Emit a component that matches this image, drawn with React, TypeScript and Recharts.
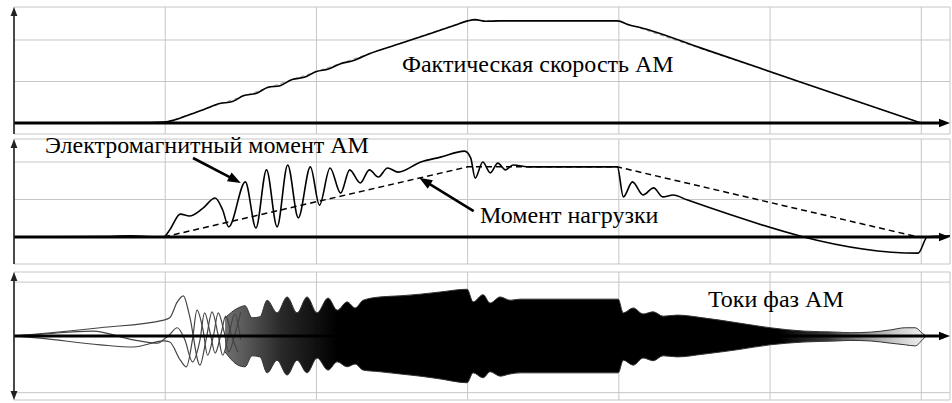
import React from "react";
import {
  ComposedChart,
  Line,
  Area,
  XAxis,
  YAxis,
  CartesianGrid,
  ReferenceLine,
} from "recharts";

// ---------- shared axis values ----------
const X_MAX = 6.19;
const X_TICKS = [1, 2, 3, 4, 5, 6];

// ---------- panel 1: speed ----------
const SPEED_T = [0, 0.9, 0.99, 1.06, 1.16, 1.26, 1.36, 1.44, 1.52, 1.6, 1.68, 1.76, 1.84, 1.92, 2.0, 2.08, 2.16, 2.24, 2.35, 2.55, 2.75, 2.92, 3.0, 3.05, 3.12, 3.21, 3.99, 4.07, 4.14, 4.54, 5.2, 6.0];
const SPEED_V = [0, 0.01, 0.02, 0.07, 0.2, 0.33, 0.47, 0.51, 0.66, 0.71, 0.86, 0.9, 1.05, 1.1, 1.24, 1.3, 1.43, 1.5, 1.67, 1.91, 2.15, 2.36, 2.46, 2.49, 2.45, 2.46, 2.46, 2.36, 2.3, 1.81, 0.99, 0];
const SET_T = [0, 0.99, 3.0, 3.99, 6.0];
const SET_V = [0, 0, 2.47, 2.47, 0];
const P1_DOMAIN = [-0.265, 2.795];
const P1_TICKS = [-0.265, 1, 2];

// ---------- panel 2: torque ----------
const TORQUE_T = [0, 0.57, 0.77, 0.99, 1.03, 1.1, 1.16, 1.25, 1.33, 1.38, 1.42, 1.53, 1.6, 1.67, 1.74, 1.81, 1.88, 1.96, 2.02, 2.09, 2.16, 2.22, 2.29, 2.35, 2.41, 2.47, 2.54, 2.69, 2.82, 2.98, 3.02, 3.05, 3.1, 3.15, 3.2, 3.25, 3.3, 3.41, 3.99, 4.03, 4.09, 4.16, 4.23, 4.29, 4.36, 4.45, 5.98, 6.04, 6.19];
const TORQUE_V = [0, 0.01, 0.03, 0, 0.19, 0.61, 0.56, 0.77, 1.04, 0.72, 0.27, 1.47, 0.24, 1.79, 0.27, 1.92, 0.51, 1.87, 0.85, 1.84, 1.17, 1.79, 1.44, 1.79, 1.6, 1.84, 1.73, 2.0, 2.13, 2.29, 2.11, 1.57, 2.0, 1.71, 1.97, 1.79, 1.92, 1.87, 1.87, 1.07, 1.47, 1.12, 1.31, 1.07, 1.12, 0.99, -0.43, 0, 0.03];
const LOAD_T = [0, 0.99, 3.0, 3.99, 5.98];
const LOAD_V = [0, 0, 1.87, 1.87, 0];
const P2_DOMAIN = [-0.72, 2.613];
const P2_TICKS = [-0.72, 1, 2];

// ---------- panel 3: phase currents ----------
const PHA_T = [0, 0.17, 0.57, 0.99, 1.03, 1.08, 1.12, 1.16, 1.23, 1.27, 1.31, 1.35, 1.38, 1.42, 1.46, 1.5];
const PHA_V = [0, 0.04, 0.15, 0.29, 0.33, 0.62, 0.73, 0.38, -0.53, -0.07, 0.44, 0.02, -0.35, 0.02, 0.4, -0.07];
const PHB_T = [0, 0.17, 0.57, 0.79, 0.99, 1.03, 1.1, 1.14, 1.18, 1.21, 1.25, 1.28, 1.32, 1.35, 1.39, 1.42, 1.46, 1.5];
const PHB_V = [0, -0.04, -0.16, -0.2, -0.09, -0.11, -0.44, -0.56, -0.07, 0.47, 0.11, -0.35, 0.02, 0.42, 0.07, -0.29, 0.02, 0.44];
const PHC_T = [0, 0.17, 0.52, 0.79, 0.95, 1.0, 1.02, 1.08, 1.13, 1.18, 1.23, 1.26, 1.3, 1.33, 1.37, 1.4, 1.44, 1.48];
const PHC_V = [0, 0.03, 0.09, -0.07, -0.13, -0.04, 0, 0.15, -0.07, -0.47, -0.07, 0.42, 0.02, -0.31, 0.05, 0.36, 0, -0.29];
const ENV_T = [1.396, 1.482, 1.528, 1.574, 1.627, 1.674, 1.74, 1.806, 1.872, 1.938, 2.004, 2.077, 2.137, 2.203, 2.256, 2.309, 2.421, 2.553, 2.686, 2.818, 2.997, 3.036, 3.102, 3.149, 3.215, 3.281, 3.347, 3.996, 4.029, 4.095, 4.161, 4.227, 4.293, 4.386, 4.558, 4.783, 5.001, 5.219, 5.444, 5.53, 5.663, 5.795, 5.894, 5.96, 6.007, 6.033];
const ENV_HI = [0.33, 0.51, 0.55, 0.33, 0.35, 0.65, 0.42, 0.71, 0.42, 0.71, 0.42, 0.69, 0.47, 0.62, 0.51, 0.65, 0.71, 0.73, 0.76, 0.8, 0.85, 0.62, 0.75, 0.6, 0.71, 0.65, 0.67, 0.67, 0.42, 0.51, 0.4, 0.44, 0.36, 0.38, 0.33, 0.24, 0.15, 0.09, 0.07, 0.06, 0.07, 0.11, 0.15, 0.15, 0.05, 0];
const ENV_LO = [-0.29, -0.53, -0.56, -0.36, -0.38, -0.67, -0.44, -0.71, -0.44, -0.67, -0.4, -0.62, -0.47, -0.56, -0.51, -0.62, -0.65, -0.69, -0.73, -0.78, -0.85, -0.67, -0.76, -0.65, -0.73, -0.69, -0.67, -0.67, -0.44, -0.53, -0.4, -0.45, -0.36, -0.38, -0.33, -0.25, -0.16, -0.11, -0.09, -0.08, -0.09, -0.13, -0.16, -0.18, -0.07, 0];
const P3_DOMAIN = [-1.1636, 1.1636];
const P3_TICKS = [-1.03, 0.98];

// ---------- annotation texts ----------
const LABEL_SPEED = "Фактическая скорость АМ";
const LABEL_EM = "Электромагнитный момент АМ";
const LABEL_LOAD = "Момент нагрузки";
const LABEL_CUR = "Токи фаз АМ";

// annotation arrows in data units of panel 2
const ARROW_EM = [{ x: 1.184, y: 2.107 }, { x: 1.5, y: 1.44 }];
const ARROW_LOAD = [{ x: 3.04, y: 0.69 }, { x: 2.68, y: 1.58 }];

const zip = (t: number[], v: number[]) => t.map((x, i) => ({ t: x, v: v[i] }));
const speedData = zip(SPEED_T, SPEED_V);
const setData = zip(SET_T, SET_V);
const torqueData = zip(TORQUE_T, TORQUE_V);
const loadData = zip(LOAD_T, LOAD_V);
const phA = zip(PHA_T, PHA_V);
const phB = zip(PHB_T, PHB_V);
const phC = zip(PHC_T, PHC_V);
const envData = ENV_T.map((t, i) => ({ t, range: [ENV_LO[i], ENV_HI[i]] }));

const FONT = "Liberation Serif, Tinos, Times New Roman, DejaVu Serif, serif";
const GRID = "#c6c6c6";

function arrowShape(width: number, color: string, head: number, both = false) {
  return (p: any) => {
    const { x1, y1, x2, y2 } = p;
    if ([x1, y1, x2, y2].some((v) => typeof v !== "number" || isNaN(v))) return <g />;
    const dx = x2 - x1;
    const dy = y2 - y1;
    const len = Math.hypot(dx, dy) || 1;
    const ux = dx / len;
    const uy = dy / len;
    const w = head * 0.38;
    const tri = (tx: number, ty: number, vx: number, vy: number) => {
      const bx = tx - vx * head;
      const by = ty - vy * head;
      return `${tx},${ty} ${bx - vy * w},${by + vx * w} ${bx + vy * w},${by - vx * w}`;
    };
    const sx = both ? x1 + ux * head * 0.8 : x1;
    const sy = both ? y1 + uy * head * 0.8 : y1;
    return (
      <g>
        <line x1={sx} y1={sy} x2={x2 - ux * head * 0.8} y2={y2 - uy * head * 0.8} stroke={color} strokeWidth={width} />
        <polygon points={tri(x2, y2, ux, uy)} fill={color} />
        {both && <polygon points={tri(x1, y1, -ux, -uy)} fill={color} />}
      </g>
    );
  };
}

const axisX = arrowShape(3, "#000", 11);
const axisY = arrowShape(1.6, "#222", 9);
const axisY2 = arrowShape(1.6, "#222", 9, true);
const annot = arrowShape(2.6, "#000", 13);

const MARGIN_L = 14;
const MARGIN_R = 2;

const textStyle: React.CSSProperties = { fontFamily: FONT, fontSize: 24, fill: "#000" };

export default function App() {
  return (
    <div style={{ position: "absolute", left: 0, top: 0, width: 952, height: 403, background: "#fff", overflow: "hidden" }}>
      {/* Panel 1 */}
      <div style={{ position: "absolute", left: 0, top: 0 }}>
        <ComposedChart width={952} height={140} margin={{ top: 7, right: MARGIN_R, bottom: 6, left: MARGIN_L }}>
          <XAxis type="number" dataKey="t" domain={[0, X_MAX]} ticks={X_TICKS} hide allowDataOverflow />
          <YAxis type="number" domain={P1_DOMAIN} ticks={P1_TICKS} hide allowDataOverflow />
          <CartesianGrid stroke={GRID} />
          <Line data={setData} dataKey="v" type="linear" stroke="#9a9a9a" strokeWidth={1} strokeDasharray="4 3" dot={false} isAnimationActive={false} />
          <Line data={speedData} dataKey="v" type="monotone" stroke="#000" strokeWidth={1.6} dot={false} isAnimationActive={false} />
          <ReferenceLine segment={[{ x: 0, y: 0 }, { x: X_MAX, y: 0 }]} shape={axisX} />
          <ReferenceLine segment={[{ x: 0, y: P1_DOMAIN[0] }, { x: 0, y: P1_DOMAIN[1] }]} shape={axisY} />
        </ComposedChart>
      </div>

      {/* Panel 2 */}
      <div style={{ position: "absolute", left: 0, top: 135 }}>
        <ComposedChart width={952} height={135} margin={{ top: 4, right: MARGIN_R, bottom: 6, left: MARGIN_L }}>
          <XAxis type="number" dataKey="t" domain={[0, X_MAX]} ticks={X_TICKS} hide allowDataOverflow />
          <YAxis type="number" domain={P2_DOMAIN} ticks={P2_TICKS} hide allowDataOverflow />
          <CartesianGrid stroke={GRID} />
          <Line data={loadData} dataKey="v" type="linear" stroke="#000" strokeWidth={1.5} strokeDasharray="6 4" dot={false} isAnimationActive={false} />
          <Line data={torqueData} dataKey="v" type="monotone" stroke="#000" strokeWidth={1.6} dot={false} isAnimationActive={false} />
          <ReferenceLine segment={[{ x: 0, y: 0 }, { x: X_MAX, y: 0 }]} shape={axisX} />
          <ReferenceLine segment={[{ x: 0, y: P2_DOMAIN[0] }, { x: 0, y: P2_DOMAIN[1] }]} shape={axisY} />
          <ReferenceLine segment={ARROW_EM} shape={annot} />
          <ReferenceLine segment={ARROW_LOAD} shape={annot} />
        </ComposedChart>
      </div>

      {/* Panel 3 */}
      <div style={{ position: "absolute", left: 0, top: 268 }}>
        <ComposedChart width={952} height={135} margin={{ top: 4, right: MARGIN_R, bottom: 3, left: MARGIN_L }}>
          <defs>
            <linearGradient id="curFill" x1="0" y1="0" x2="1" y2="0">
              <stop offset="0" stopColor="#333" stopOpacity={0.7} />
              <stop offset="0.08" stopColor="#111" stopOpacity={0.9} />
              <stop offset="0.16" stopColor="#000" stopOpacity={1} />
              <stop offset="0.79" stopColor="#000" stopOpacity={1} />
              <stop offset="0.86" stopColor="#222" stopOpacity={0.9} />
              <stop offset="0.93" stopColor="#666" stopOpacity={0.55} />
              <stop offset="1" stopColor="#999" stopOpacity={0.15} />
            </linearGradient>
          </defs>
          <XAxis type="number" dataKey="t" domain={[0, X_MAX]} ticks={X_TICKS} hide allowDataOverflow />
          <YAxis type="number" domain={P3_DOMAIN} ticks={P3_TICKS} hide allowDataOverflow />
          <CartesianGrid stroke={GRID} />
          <Line data={phA} dataKey="v" type="monotone" stroke="#444" strokeWidth={1.2} dot={false} isAnimationActive={false} />
          <Line data={phB} dataKey="v" type="monotone" stroke="#444" strokeWidth={1.2} dot={false} isAnimationActive={false} />
          <Line data={phC} dataKey="v" type="monotone" stroke="#444" strokeWidth={1.2} dot={false} isAnimationActive={false} />
          <Area data={envData} dataKey="range" type="monotone" stroke="#333" strokeWidth={1} fill="url(#curFill)" fillOpacity={1} isAnimationActive={false} />
          <ReferenceLine segment={[{ x: 0, y: 0 }, { x: X_MAX, y: 0 }]} shape={axisX} />
          <ReferenceLine segment={[{ x: 0, y: P3_DOMAIN[0] }, { x: 0, y: P3_DOMAIN[1] }]} shape={axisY2} />
        </ComposedChart>
      </div>

      {/* text labels */}
      <svg width={952} height={403} style={{ position: "absolute", left: 0, top: 0, pointerEvents: "none" }}>
        <text x={402} y={72} style={textStyle}>{LABEL_SPEED}</text>
        <text x={45} y={153} style={textStyle}>{LABEL_EM}</text>
        <text x={480} y={223} style={textStyle}>{LABEL_LOAD}</text>
        <text x={708} y={307} style={textStyle}>{LABEL_CUR}</text>
      </svg>
    </div>
  );
}
